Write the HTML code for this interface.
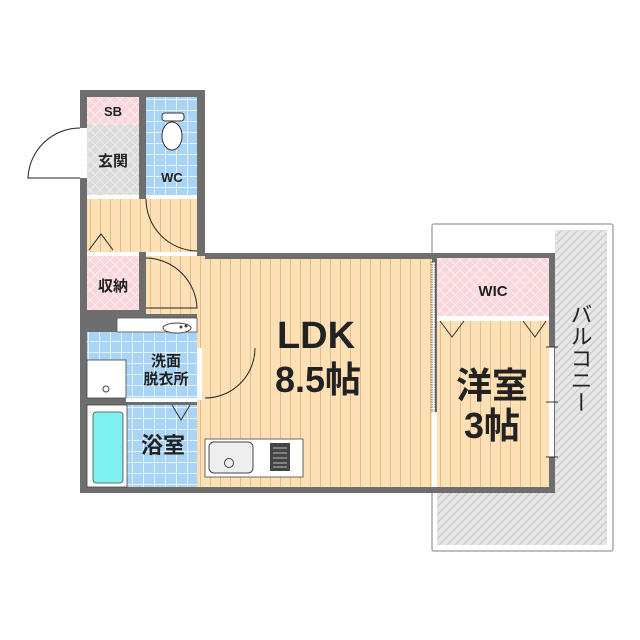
<!DOCTYPE html>
<html><head><meta charset="utf-8"><style>
html,body{margin:0;padding:0;background:#fff}
svg{display:block}
text{font-family:"Liberation Sans","Noto Sans CJK JP",sans-serif;fill:#222}
.b{font-weight:bold}
</style></head><body>
<svg width="640" height="640" viewBox="0 0 640 640" xmlns="http://www.w3.org/2000/svg">
<defs>
<pattern id="wood" width="10" height="10" patternUnits="userSpaceOnUse">
<rect width="10" height="10" fill="#fde0b6"/><line x1="0.5" y1="0" x2="0.5" y2="10" stroke="#e2bd8c" stroke-width="1"/></pattern>
<pattern id="tile" width="11" height="11" patternUnits="userSpaceOnUse">
<rect width="11" height="11" fill="#a9d4f5"/><path d="M0 0.5H11M0.5 0V11" stroke="#e4f2fc" stroke-width="1"/></pattern>
<pattern id="pink" width="10" height="10" patternUnits="userSpaceOnUse">
<rect width="10" height="10" fill="#f9d7da"/><path d="M0 0L10 10M10 0L0 10" stroke="#fdeef0" stroke-width="1"/></pattern>
<pattern id="gray" width="10" height="10" patternUnits="userSpaceOnUse">
<rect width="10" height="10" fill="#dcdcdc"/><path d="M0 0L10 10M10 0L0 10" stroke="#ececec" stroke-width="1"/></pattern>
<pattern id="hatch" width="8" height="8" patternUnits="userSpaceOnUse">
<rect width="8" height="8" fill="#e6e6e6"/><path d="M0 8L8 0M-2 2L2 -2M6 10L10 6" stroke="#c4c4c4" stroke-width="1"/></pattern>
</defs>

<rect x="432" y="224" width="181" height="327" fill="#fff" stroke="#aaa" stroke-width="1.5" rx="2"/>
<rect x="555" y="230" width="52" height="315" fill="url(#hatch)"/>
<rect x="437" y="493" width="170" height="52" fill="url(#hatch)"/>

<rect x="80" y="90" width="125" height="168" fill="#6e6e6e"/>
<rect x="80" y="253" width="475" height="240" fill="#6e6e6e"/>

<rect x="87" y="97" width="52" height="28" fill="url(#pink)"/>
<rect x="87" y="125" width="52" height="70" fill="url(#gray)"/>
<rect x="146" y="97" width="51" height="98" fill="url(#tile)"/>
<rect x="87" y="199" width="110" height="53" fill="url(#wood)"/>
<rect x="87" y="195" width="52" height="4" fill="#fff"/>
<rect x="146" y="195" width="51" height="4" fill="#fff"/>
<rect x="87" y="256" width="52" height="54" fill="url(#pink)"/>
<rect x="87" y="252" width="52" height="4" fill="#fff"/>
<rect x="146" y="256" width="59" height="58" fill="url(#wood)"/>
<rect x="146" y="252" width="51" height="4" fill="#fff"/>
<rect x="205" y="259" width="227" height="228" fill="url(#wood)"/>
<rect x="197" y="314" width="8" height="173" fill="url(#wood)"/>
<rect x="87" y="318" width="110" height="80" fill="url(#tile)"/>
<rect x="87" y="318" width="30" height="14" fill="#6e6e6e"/>
<rect x="117" y="318" width="80" height="14" fill="#fff" stroke="#555" stroke-width="0.8"/>
<ellipse cx="177" cy="328" rx="14" ry="5" fill="#fff" stroke="#444"/>
<circle cx="181" cy="327" r="1.5" fill="#444"/><circle cx="186" cy="326" r="1.5" fill="#444"/>
<rect x="87" y="360" width="39" height="38" fill="#fff" stroke="#444" stroke-width="0.8"/>
<circle cx="106" cy="389" r="3" fill="#fff" stroke="#444"/>
<rect x="87" y="405" width="110" height="82" fill="url(#tile)"/>
<rect x="126" y="398" width="71" height="4" fill="#fff"/>
<rect x="87" y="405" width="40" height="82" fill="#fff" stroke="#444" stroke-width="0.8"/>
<rect x="93" y="412" width="30" height="71" rx="3" fill="#7ff0f0" stroke="#444" stroke-width="0.8"/>
<rect x="197" y="348" width="5" height="52" fill="#fff"/>
<path d="M172 405L181 420L190 405" fill="none" stroke="#333"/>

<rect x="437" y="258" width="112" height="58" fill="url(#pink)"/>
<rect x="437" y="316" width="112" height="5" fill="#fff"/>
<rect x="437" y="321" width="112" height="166" fill="url(#wood)"/>
<rect x="432" y="262" width="3" height="150" fill="#fff" stroke="#333" stroke-width="0.8" stroke-dasharray="1.5 1"/>
<rect x="432" y="412" width="5" height="75" fill="#fff"/>
<path d="M440 321L452 337L464 321M523 321L535 337L546 321" fill="none" stroke="#333"/>
<rect x="549" y="347" width="5" height="110" fill="#fff"/>
<path d="M546 347H558M546 402H558M546 457H558" stroke="#333"/>

<rect x="205" y="439" width="98" height="38" fill="#fff" stroke="#444" stroke-width="0.8"/>
<rect x="209" y="442" width="44" height="31" rx="5" fill="#eee" stroke="#444"/>
<circle cx="229" cy="463" r="4.5" fill="#eee" stroke="#444"/>
<rect x="270" y="443" width="20" height="28" fill="#444"/>
<path d="M273 448H287M273 453H287M273 458H287M273 463H287M273 467H287" stroke="#bbb" stroke-width="1"/>

<rect x="162" y="113" width="22" height="8" rx="3" fill="#fff" stroke="#333"/>
<ellipse cx="172" cy="136" rx="10" ry="14" fill="#fff" stroke="#333"/>

<rect x="80" y="128" width="7" height="50" fill="#fff"/>
<path d="M80 128A52 52 0 0 0 28 178H80" fill="none" stroke="#222" stroke-width="1"/>
<path d="M146 199A52 52 0 0 0 197 251" fill="none" stroke="#222"/>
<path d="M146 258A52 52 0 0 1 197 308H146" fill="none" stroke="#222"/>
<path d="M255 348A50 50 0 0 1 205 398" fill="none" stroke="#222"/>
<path d="M89 250L101 234L113 250" fill="none" stroke="#222"/>

<text x="113" y="116" font-size="13" class="b" text-anchor="middle">SB</text>
<text x="113" y="166" font-size="15" class="b" text-anchor="middle">玄関</text>
<text x="172" y="182" font-size="13" class="b" text-anchor="middle">WC</text>
<text x="113" y="291" font-size="15" class="b" text-anchor="middle">収納</text>
<text x="166" y="366" font-size="15" class="b" text-anchor="middle">洗面</text>
<text x="166" y="384" font-size="15" class="b" text-anchor="middle">脱衣所</text>
<text x="163" y="453" font-size="22" class="b" text-anchor="middle">浴室</text>
<text x="316" y="348" font-size="38" class="b" text-anchor="middle">LDK</text>
<text x="318" y="392" font-size="36" class="b" text-anchor="middle">8.5帖</text>
<text x="493" y="296" font-size="15" class="b" text-anchor="middle">WIC</text>
<text x="492" y="398" font-size="36" class="b" text-anchor="middle">洋室</text>
<text x="492" y="438" font-size="36" class="b" text-anchor="middle">3帖</text>
<text x="580" y="358" font-size="22" text-anchor="middle" writing-mode="tb">バルコニー</text>
</svg>
</body></html>
